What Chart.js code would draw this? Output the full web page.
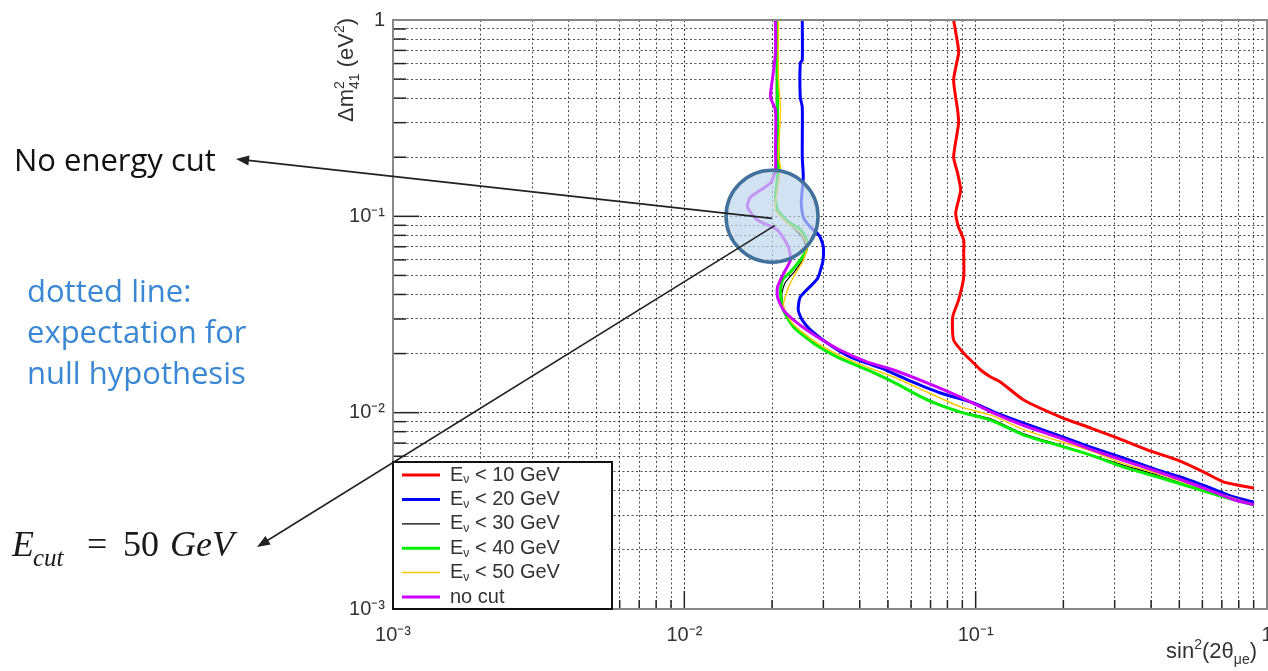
<!DOCTYPE html>
<html lang="en">
<head>
<meta charset="UTF-8">
<title>Sensitivity contours</title>
<script src="https://cdn.jsdelivr.net/npm/chart.js"></script>
<style>
    html, body { margin: 0; padding: 0; background: #fff; }
    #wrap { width: 1268px; height: 671px; position: relative; }
</style>
</head>
<body>
<div id="wrap"><canvas id="sens"></canvas></div>
<script>
// contours: x = sin^2(2theta_mue), y = dm^2_41 (eV^2)
const cut10X = [0.0840, 0.0867, 0.0874, 0.0840, 0.0867, 0.0874, 0.0840, 0.0867, 0.0888, 0.0854, 0.0874, 0.0910, 0.0910, 0.0910, 0.0874, 0.0834, 0.0840, 0.0910, 0.0984, 0.1040, 0.1126, 0.1219, 0.1462, 0.1958, 0.2484, 0.3076, 0.3901, 0.4945, 0.6074, 0.7115, 0.9022];
const cut10Y = [1.0, 0.763, 0.679, 0.495, 0.348, 0.299, 0.2005, 0.166, 0.136, 0.104, 0.088, 0.0757, 0.065, 0.049, 0.0375, 0.0307, 0.0234, 0.0201, 0.0179, 0.0165, 0.0152, 0.0143, 0.0116, 0.0095, 0.00835, 0.00742, 0.00645, 0.00573, 0.00498, 0.00443, 0.00413];

const cut20X = [0.0254, 0.0254, 0.0250, 0.0250, 0.0254, 0.0254, 0.0256, 0.0252, 0.0256, 0.0271, 0.0286, 0.0293, 0.0300, 0.0300, 0.0298, 0.0286, 0.0250, 0.0246, 0.0254, 0.0271, 0.0310, 0.0372, 0.0472, 0.0584, 0.0758, 0.0984, 0.1153, 0.1462, 0.1913, 0.2484, 0.3226, 0.4220, 0.5187, 0.6420, 0.7700, 0.9022];
const cut20Y = [1.0, 0.625, 0.604, 0.405, 0.360, 0.2005, 0.1585, 0.117, 0.099, 0.088, 0.082, 0.078, 0.070, 0.062, 0.0578, 0.048, 0.0388, 0.0333, 0.0296, 0.0264, 0.0226, 0.0192, 0.0169, 0.0147, 0.0126, 0.0112, 0.0101, 0.00885, 0.00769, 0.00668, 0.00587, 0.0051, 0.00464, 0.00413, 0.00372, 0.0035];

const cut30X = [0.0207, 0.0207, 0.0209, 0.0206, 0.0215, 0.0235, 0.0255, 0.0262, 0.0255, 0.0238, 0.0222, 0.0216, 0.0221, 0.0240, 0.0285, 0.0340, 0.0426, 0.0523, 0.0684, 0.0888, 0.1126, 0.1462, 0.1913, 0.2484, 0.3226, 0.4220, 0.5482, 0.7120, 0.9022];
const cut30Y = [1.0, 0.25, 0.15, 0.115, 0.1, 0.088, 0.078, 0.068, 0.06, 0.052, 0.046, 0.04, 0.033, 0.027, 0.0222, 0.019, 0.0164, 0.0142, 0.0117, 0.0101, 0.0093, 0.0078, 0.0069, 0.0061, 0.0054, 0.0048, 0.0042, 0.00375, 0.0034];

const cut40X = [0.02088, 0.02088, 0.02104, 0.02055, 0.02088, 0.0225, 0.0252, 0.0264, 0.0262, 0.0250, 0.02313, 0.02172, 0.02138, 0.02189, 0.02369, 0.02774, 0.03355, 0.04255, 0.05227, 0.0684, 0.0888, 0.1126, 0.1462, 0.1913, 0.2484, 0.3226, 0.4220, 0.5482, 0.7120, 0.9022];
const cut40Y = [1.0, 0.3, 0.18, 0.125, 0.108, 0.095, 0.085, 0.074, 0.067, 0.060, 0.052, 0.0474, 0.0407, 0.0333, 0.0273, 0.0226, 0.0192, 0.0165, 0.0143, 0.0116, 0.01007, 0.00917, 0.00769, 0.00684, 0.00608, 0.00528, 0.0047, 0.00418, 0.00372, 0.00338];

const cut50X = [0.02104, 0.02104, 0.02138, 0.02104, 0.02138, 0.02088, 0.02055, 0.02259, 0.02503, 0.02646, 0.02563, 0.02369, 0.02259, 0.02189, 0.0235, 0.0275, 0.0335, 0.0426, 0.0523, 0.0684, 0.0888, 0.1153, 0.1462, 0.1913, 0.2484, 0.3226, 0.4220, 0.5482, 0.7120, 0.9022];
const cut50Y = [1.0, 0.5, 0.35, 0.2, 0.1783, 0.1361, 0.1076, 0.0924, 0.0822, 0.0714, 0.0599, 0.0491, 0.0421, 0.035, 0.0285, 0.0235, 0.0198, 0.017, 0.0152, 0.0127, 0.0107, 0.0096, 0.0082, 0.0072, 0.0064, 0.0055, 0.0049, 0.0043, 0.0038, 0.0034];

const noCutX = [0.02055, 0.02055, 0.0201, 0.01975, 0.02055, 0.02055, 0.02055, 0.01975, 0.01686, 0.01646, 0.01782, 0.02088, 0.02277, 0.02313, 0.02189, 0.02088, 0.02088, 0.02189, 0.02445, 0.02864, 0.03436, 0.04255, 0.05227, 0.0684, 0.0888, 0.1153, 0.1462, 0.1913, 0.2484, 0.3226, 0.4220, 0.5187, 0.6420, 0.7700, 0.9022];
const noCutY = [1.0, 0.68, 0.51, 0.405, 0.348, 0.2177, 0.172, 0.148, 0.125, 0.1115, 0.0958, 0.0851, 0.0698, 0.0599, 0.051, 0.0436, 0.0388, 0.0333, 0.0286, 0.0243, 0.0208, 0.0181, 0.0165, 0.01415, 0.0120, 0.00995, 0.0086, 0.0075, 0.0065, 0.0057, 0.0050, 0.0045, 0.0040, 0.0036, 0.0034];

const seriesNames = ['E\u03bd < 10 GeV', 'E\u03bd < 20 GeV', 'E\u03bd < 30 GeV', 'E\u03bd < 40 GeV', 'E\u03bd < 50 GeV', 'no cut'];
const seriesColors = ['#ff0000', '#0000ff', '#000000', '#00ee00', '#ffc800', '#cc00ff'];
const seriesWidths = [3, 3, 1.2, 3, 1.5, 3];

const decadeValues = [0.001, 0.01, 0.1, 1];
const decadeLabels = ['10\u207b\u00b3', '10\u207b\u00b2', '10\u207b\u00b9', '1'];
const circleAt = [0.02, 0.1];

const xs = [cut10X, cut20X, cut30X, cut40X, cut50X, noCutX];
const ys = [cut10Y, cut20Y, cut30Y, cut40Y, cut50Y, noCutY];

// grid at 1..9 x each decade
const gridValues = [];
decadeValues.slice(0, 3).forEach(d => { for (let k = 1; k < 10; k++) gridValues.push(+(d * k).toPrecision(3)); });
gridValues.push(1);

function isDecade(v) {
    return decadeValues.some(d => Math.abs(v / d - 1) < 1e-6);
}
function decadeLabel(v) {
    const i = decadeValues.findIndex(d => Math.abs(v / d - 1) < 1e-6);
    return i < 0 ? '' : decadeLabels[i];
}

function logAxis(afterFit) {
    return {
        type: 'logarithmic',
        min: 0.001,
        max: 1,
        afterBuildTicks: s => { s.ticks = gridValues.map(v => ({ value: v })); },
        afterFit: afterFit,
        grid: {
            color: c => isDecade(c.tick.value) ? 'rgba(0,0,0,0.85)' : 'rgba(0,0,0,0.7)',
            lineWidth: 1,
            drawTicks: false
        },
        border: { display: false, dash: [2, 2.5] },
        ticks: {
            autoSkip: false,
            maxRotation: 0,
            color: '#333',
            font: { family: 'Liberation Sans', size: 20 },
            callback: v => decadeLabel(v)
        }
    };
}

const xAxis = logAxis(s => { s.height = 62; s.paddingLeft = 0; s.paddingRight = 0; });
xAxis.ticks.padding = 14;
const yAxis = logAxis(s => { s.width = 393; s.paddingTop = 0; s.paddingBottom = 0; });
yAxis.ticks.padding = 8;

function richText(ctx, parts, x, y, alignRight) {
    let total = 0;
    parts.forEach(p => {
        ctx.font = p.font;
        p.w = ctx.measureText(p.t).width;
        if (p.adv !== false) total += p.w;
    });
    let cx = alignRight ? x - total : x;
    parts.forEach(p => {
        ctx.font = p.font;
        ctx.fillText(p.t, cx, y + (p.dy || 0));
        if (p.adv !== false) cx += p.w;
    });
}

function arrow(ctx, x1, y1, x2, y2) {
    const a = Math.atan2(y2 - y1, x2 - x1);
    ctx.beginPath();
    ctx.moveTo(x1, y1);
    ctx.lineTo(x2 - 8 * Math.cos(a), y2 - 8 * Math.sin(a));
    ctx.stroke();
    ctx.beginPath();
    ctx.moveTo(x2, y2);
    ctx.lineTo(x2 - 13 * Math.cos(a) + 5 * Math.sin(a), y2 - 13 * Math.sin(a) - 5 * Math.cos(a));
    ctx.lineTo(x2 - 13 * Math.cos(a) - 5 * Math.sin(a), y2 - 13 * Math.sin(a) + 5 * Math.cos(a));
    ctx.closePath();
    ctx.fill();
}

const framePlugin = {
    id: 'frame',
    afterDatasetsDraw(chart) {
        const ctx = chart.ctx, a = chart.chartArea;
        const sx = chart.scales.x, sy = chart.scales.y;
        ctx.save();
        // ticks pointing inwards, ROOT style
        ctx.strokeStyle = '#222';
        ctx.lineWidth = 1.5;
        sx.ticks.forEach(t => {
            const px = sx.getPixelForValue(t.value);
            const len = isDecade(t.value) ? 18 : 9;
            ctx.beginPath(); ctx.moveTo(px, a.bottom); ctx.lineTo(px, a.bottom - len); ctx.stroke();
        });
        sy.ticks.forEach(t => {
            const py = sy.getPixelForValue(t.value);
            const len = isDecade(t.value) ? 26 : 13;
            ctx.beginPath(); ctx.moveTo(a.left, py); ctx.lineTo(a.left + len, py); ctx.stroke();
        });
        ctx.strokeStyle = '#888';
        ctx.lineWidth = 2;
        ctx.strokeRect(a.left, a.top, a.right - a.left, a.bottom - a.top);

        // legend box, lower left
        const bl = a.left, bt = a.bottom - 147, bw = 219, bh = 147;
        ctx.fillStyle = '#fff';
        ctx.fillRect(bl, bt, bw, bh);
        ctx.strokeStyle = '#111';
        ctx.lineWidth = 2;
        ctx.strokeRect(bl, bt, bw, bh);
        chart.data.datasets.forEach((ds, i) => {
            const ly = bt + 13 + i * 24.4;
            ctx.strokeStyle = ds.borderColor;
            ctx.lineWidth = ds.borderWidth;
            ctx.beginPath(); ctx.moveTo(bl + 9, ly); ctx.lineTo(bl + 47, ly); ctx.stroke();
            ctx.fillStyle = '#333';
            ctx.textBaseline = 'middle';
            if (ds.label.startsWith('E\u03bd')) {
                richText(ctx, [
                    { t: 'E', font: '20px "Liberation Sans"' },
                    { t: '\u03bd', font: '12px "Liberation Sans"', dy: 5 },
                    { t: ds.label.slice(2), font: '20px "Liberation Sans"' }
                ], bl + 57, ly, false);
            } else {
                ctx.font = '20px "Liberation Sans"';
                ctx.fillText(ds.label, bl + 57, ly);
            }
        });
        ctx.restore();
    },
    afterDraw(chart) {
        const ctx = chart.ctx, a = chart.chartArea;
        ctx.save();
        ctx.fillStyle = '#333';
        ctx.textBaseline = 'alphabetic';
        // x title
        richText(ctx, [
            { t: 'sin', font: '22px "Liberation Sans"' },
            { t: '2', font: '14px "Liberation Sans"', dy: -9 },
            { t: '(2\u03b8', font: '22px "Liberation Sans"' },
            { t: '\u03bce', font: '14px "Liberation Sans"', dy: 6 },
            { t: ')', font: '22px "Liberation Sans"' }
        ], a.right - 10, a.bottom + 49, true);
        // y title, rotated
        ctx.save();
        ctx.translate(a.left - 40, a.top - 2);
        ctx.rotate(-Math.PI / 2);
        richText(ctx, [
            { t: '\u0394m', font: '22px "Liberation Sans"' },
            { t: '2', font: '14px "Liberation Sans"', dy: -9, adv: false },
            { t: '41', font: '14px "Liberation Sans"', dy: 6 },
            { t: ' (eV', font: '22px "Liberation Sans"' },
            { t: '2', font: '14px "Liberation Sans"', dy: -9 },
            { t: ')', font: '22px "Liberation Sans"' }
        ], 0, 0, true);
        ctx.restore();

        // highlighted region
        const cx = chart.scales.x.getPixelForValue(circleAt[0]);
        const cy = chart.scales.y.getPixelForValue(circleAt[1]);
        ctx.beginPath();
        ctx.arc(cx, cy, 46, 0, Math.PI * 2);
        ctx.fillStyle = 'rgba(190,213,236,0.7)';
        ctx.fill();
        ctx.lineWidth = 3.5;
        ctx.strokeStyle = '#41719c';
        ctx.stroke();

        ctx.strokeStyle = '#222';
        ctx.fillStyle = '#222';
        ctx.lineWidth = 1.6;
        arrow(ctx, cx, cy + 2, 236, 159);
        arrow(ctx, cx + 3, cy + 9, 257, 547);

        ctx.fillStyle = '#111';
        ctx.font = '31px "Open Sans"';
        ctx.fillText('No energy cut', 14, 171);
        ctx.fillStyle = '#3a87d3';
        ctx.fillText('dotted line:', 27, 302);
        ctx.fillText('expectation for', 27, 343);
        ctx.fillText('null hypothesis', 27, 384);

        ctx.fillStyle = '#1a1a1a';
        ctx.font = 'italic 36px "Liberation Serif"';
        ctx.fillText('E', 12, 556);
        ctx.font = 'italic 25px "Liberation Serif"';
        ctx.fillText('cut', 33, 566);
        ctx.font = '36px "Liberation Serif"';
        ctx.fillText('=', 87, 556);
        ctx.fillText('50', 123, 556);
        ctx.font = 'italic 36px "Liberation Serif"';
        ctx.fillText('GeV', 170, 556);
        ctx.restore();
    }
};

new Chart(document.getElementById('sens'), {
    type: 'scatter',
    data: {
        datasets: seriesNames.map((name, i) => ({
            label: name,
            data: xs[i].map((x, j) => ({ x: x, y: ys[i][j] })),
            showLine: true,
            borderColor: seriesColors[i],
            backgroundColor: seriesColors[i],
            borderWidth: seriesWidths[i],
            pointRadius: 0,
            tension: 0.2,
            order: seriesNames.length - i
        }))
    },
    options: {
        responsive: true,
        maintainAspectRatio: false,
        animation: false,
        layout: { padding: { top: 20, right: 1, left: 0, bottom: 0 } },
        plugins: { legend: { display: false }, tooltip: { enabled: false } },
        scales: { x: xAxis, y: yAxis }
    },
    plugins: [framePlugin]
});
</script>
</body>
</html>
